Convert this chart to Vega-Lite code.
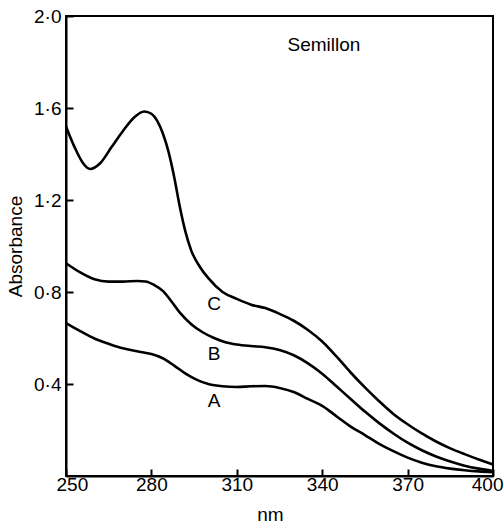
{
  "$schema": "https://vega.github.io/schema/vega-lite/v6.json",
  "autosize": {"type": "none"},
  "width": 427,
  "height": 460,
  "padding": {"left": 66, "top": 16, "right": 11, "bottom": 47},
  "config": {
    "view": {"stroke": "black", "strokeWidth": 2},
    "font": "Liberation Sans",
    "axis": {
      "domainColor": "black", "domainWidth": 2, "tickColor": "black", "tickWidth": 2,
      "labelColor": "black", "titleColor": "black", "labelFont": "Liberation Sans",
      "titleFont": "Liberation Sans", "grid": false, "labelFontSize": 19, "titleFontSize": 19,
      "titleFontWeight": "normal", "labelFlush": false
    }
  },
  "datasets": {
    "curves": [
      {"nm": 250, "abs": 1.52, "s": "C"}, {"nm": 253, "abs": 1.43, "s": "C"}, {"nm": 256, "abs": 1.36, "s": "C"},
      {"nm": 258.5, "abs": 1.335, "s": "C"}, {"nm": 262, "abs": 1.36, "s": "C"}, {"nm": 266, "abs": 1.43, "s": "C"},
      {"nm": 270, "abs": 1.5, "s": "C"}, {"nm": 274, "abs": 1.56, "s": "C"}, {"nm": 277.5, "abs": 1.585, "s": "C"},
      {"nm": 280, "abs": 1.575, "s": "C"}, {"nm": 282, "abs": 1.545, "s": "C"}, {"nm": 284, "abs": 1.49, "s": "C"},
      {"nm": 286, "abs": 1.41, "s": "C"}, {"nm": 288, "abs": 1.3, "s": "C"}, {"nm": 290, "abs": 1.17, "s": "C"},
      {"nm": 292, "abs": 1.06, "s": "C"}, {"nm": 294, "abs": 0.98, "s": "C"},
      {"nm": 297, "abs": 0.91, "s": "C"}, {"nm": 300, "abs": 0.86, "s": "C"}, {"nm": 305, "abs": 0.8, "s": "C"},
      {"nm": 310, "abs": 0.77, "s": "C"}, {"nm": 315, "abs": 0.745, "s": "C"}, {"nm": 320, "abs": 0.73, "s": "C"},
      {"nm": 325, "abs": 0.705, "s": "C"}, {"nm": 330, "abs": 0.675, "s": "C"}, {"nm": 335, "abs": 0.635, "s": "C"},
      {"nm": 340, "abs": 0.585, "s": "C"}, {"nm": 345, "abs": 0.52, "s": "C"}, {"nm": 350, "abs": 0.45, "s": "C"},
      {"nm": 355, "abs": 0.385, "s": "C"}, {"nm": 360, "abs": 0.325, "s": "C"}, {"nm": 365, "abs": 0.27, "s": "C"},
      {"nm": 370, "abs": 0.225, "s": "C"}, {"nm": 375, "abs": 0.185, "s": "C"}, {"nm": 380, "abs": 0.15, "s": "C"},
      {"nm": 385, "abs": 0.12, "s": "C"}, {"nm": 390, "abs": 0.095, "s": "C"}, {"nm": 395, "abs": 0.072, "s": "C"},
      {"nm": 400, "abs": 0.05, "s": "C"},
      {"nm": 250, "abs": 0.925, "s": "B"}, {"nm": 255, "abs": 0.885, "s": "B"}, {"nm": 260, "abs": 0.855, "s": "B"},
      {"nm": 265, "abs": 0.845, "s": "B"}, {"nm": 270, "abs": 0.845, "s": "B"}, {"nm": 275, "abs": 0.848, "s": "B"},
      {"nm": 278, "abs": 0.846, "s": "B"}, {"nm": 281, "abs": 0.83, "s": "B"}, {"nm": 284, "abs": 0.805, "s": "B"},
      {"nm": 287, "abs": 0.76, "s": "B"}, {"nm": 290, "abs": 0.71, "s": "B"}, {"nm": 294, "abs": 0.66, "s": "B"},
      {"nm": 298, "abs": 0.625, "s": "B"}, {"nm": 302, "abs": 0.6, "s": "B"}, {"nm": 306, "abs": 0.582, "s": "B"},
      {"nm": 310, "abs": 0.572, "s": "B"}, {"nm": 315, "abs": 0.565, "s": "B"}, {"nm": 320, "abs": 0.56, "s": "B"},
      {"nm": 325, "abs": 0.548, "s": "B"}, {"nm": 330, "abs": 0.525, "s": "B"}, {"nm": 335, "abs": 0.49, "s": "B"},
      {"nm": 340, "abs": 0.445, "s": "B"}, {"nm": 345, "abs": 0.39, "s": "B"}, {"nm": 350, "abs": 0.335, "s": "B"},
      {"nm": 355, "abs": 0.28, "s": "B"}, {"nm": 360, "abs": 0.23, "s": "B"}, {"nm": 365, "abs": 0.185, "s": "B"},
      {"nm": 370, "abs": 0.145, "s": "B"}, {"nm": 375, "abs": 0.112, "s": "B"}, {"nm": 380, "abs": 0.085, "s": "B"},
      {"nm": 385, "abs": 0.063, "s": "B"}, {"nm": 390, "abs": 0.045, "s": "B"}, {"nm": 395, "abs": 0.032, "s": "B"},
      {"nm": 400, "abs": 0.022, "s": "B"},
      {"nm": 250, "abs": 0.665, "s": "A"}, {"nm": 255, "abs": 0.63, "s": "A"}, {"nm": 260, "abs": 0.598, "s": "A"},
      {"nm": 265, "abs": 0.575, "s": "A"}, {"nm": 270, "abs": 0.555, "s": "A"}, {"nm": 275, "abs": 0.542, "s": "A"},
      {"nm": 280, "abs": 0.53, "s": "A"}, {"nm": 284, "abs": 0.512, "s": "A"}, {"nm": 288, "abs": 0.48, "s": "A"},
      {"nm": 292, "abs": 0.445, "s": "A"}, {"nm": 296, "abs": 0.418, "s": "A"}, {"nm": 300, "abs": 0.4, "s": "A"},
      {"nm": 305, "abs": 0.39, "s": "A"}, {"nm": 310, "abs": 0.387, "s": "A"}, {"nm": 315, "abs": 0.39, "s": "A"},
      {"nm": 320, "abs": 0.391, "s": "A"}, {"nm": 325, "abs": 0.383, "s": "A"}, {"nm": 330, "abs": 0.365, "s": "A"},
      {"nm": 335, "abs": 0.335, "s": "A"}, {"nm": 340, "abs": 0.305, "s": "A"}, {"nm": 345, "abs": 0.26, "s": "A"},
      {"nm": 350, "abs": 0.215, "s": "A"}, {"nm": 355, "abs": 0.178, "s": "A"}, {"nm": 360, "abs": 0.14, "s": "A"},
      {"nm": 365, "abs": 0.108, "s": "A"}, {"nm": 370, "abs": 0.08, "s": "A"}, {"nm": 375, "abs": 0.058, "s": "A"},
      {"nm": 380, "abs": 0.042, "s": "A"}, {"nm": 385, "abs": 0.032, "s": "A"}, {"nm": 390, "abs": 0.025, "s": "A"},
      {"nm": 395, "abs": 0.02, "s": "A"}, {"nm": 400, "abs": 0.017, "s": "A"}
    ],
    "labels": [
      {"nm": 302, "abs": 0.722, "t": "C"},
      {"nm": 302, "abs": 0.504, "t": "B"},
      {"nm": 302, "abs": 0.3, "t": "A"},
      {"nm": 340.6, "abs": 1.848, "t": "Semillon"}
    ]
  },
  "layer": [
    {
      "data": {"name": "curves"},
      "mark": {"type": "line", "color": "black", "strokeWidth": 2.6, "interpolate": "monotone"},
      "encoding": {
        "x": {"field": "nm", "type": "quantitative",
          "scale": {"domain": [250, 400], "nice": false},
          "axis": {"values": [250, 280, 310, 340, 370, 400], "tickSize": -7, "labelPadding": 6,
            "labelFlush": true, "labelFlushOffset": 10,
            "title": "nm", "titlePadding": 11, "titleX": 204}},
        "y": {"field": "abs", "type": "quantitative",
          "scale": {"domain": [0, 2], "nice": false},
          "axis": {"values": [0.4, 0.8, 1.2, 1.6, 2.0], "tickSize": -7, "labelPadding": 12,
            "labelExpr": "replace(format(datum.value, '.1f'), '.', '·')",
            "title": "Absorbance", "titlePadding": 8}},
        "detail": {"field": "s"}
      }
    },
    {
      "data": {"name": "labels"},
      "mark": {"type": "text", "color": "black", "fontSize": 19, "align": "center", "baseline": "alphabetic", "font": "Liberation Sans"},
      "encoding": {
        "x": {"field": "nm", "type": "quantitative"},
        "y": {"field": "abs", "type": "quantitative"},
        "text": {"field": "t"}
      }
    }
  ]
}
